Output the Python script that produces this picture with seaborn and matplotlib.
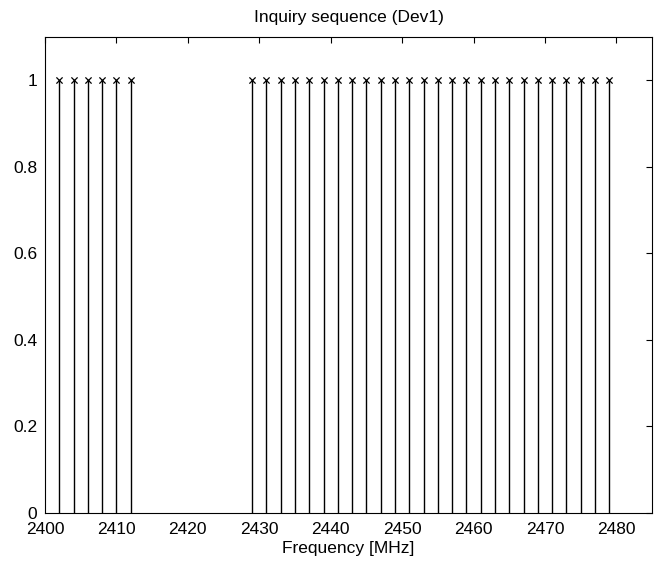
import matplotlib
matplotlib.use("Agg")
import matplotlib.pyplot as plt
import seaborn as sns
import pandas as pd

freq_low = [2402, 2404, 2406, 2408, 2410, 2412]
freq_high = [2429, 2431, 2433, 2435, 2437, 2439, 2441, 2443, 2445, 2447, 2449, 2451, 2453,
             2455, 2457, 2459, 2461, 2463, 2465, 2467, 2469, 2471, 2473, 2475, 2477, 2479]
frequencies = freq_low + freq_high
values = [1] * len(frequencies)
x_ticks = [2400, 2410, 2420, 2430, 2440, 2450, 2460, 2470, 2480]
y_ticks = [0, 0.2, 0.4, 0.6, 0.8, 1]
y_tick_labels = ["0", "0.2", "0.4", "0.6", "0.8", "1"]

df = pd.DataFrame({"freq": frequencies, "val": values})

sns.set_style("white")
plt.rcParams["font.family"] = ["Liberation Sans", "DejaVu Sans"]
plt.rcParams["text.color"] = "black"
plt.rcParams["axes.labelcolor"] = "black"

fig = plt.figure(figsize=(6.62, 5.67), dpi=100)
ax = fig.add_axes([0.068, 0.0952, 0.917, 0.8395])

ax.vlines(df["freq"], 0, df["val"], colors="black", linewidth=1.0)
sns.scatterplot(data=df, x="freq", y="val", marker="x", color="black", s=20,
                linewidth=0.9, ax=ax, legend=False)

ax.set_xlim(2400, 2485)
ax.set_ylim(0, 1.1)
ax.set_xticks(x_ticks)
ax.set_yticks(y_ticks)
ax.set_yticklabels(y_tick_labels)
ax.tick_params(direction="in", length=4.5, width=0.8, top=True, right=True,
               labelsize=12.5, colors="black")
ax.tick_params(axis="x", pad=6.5)
ax.tick_params(axis="y", pad=5.5)
for s in ax.spines.values():
    s.set_visible(True)
    s.set_color("black")
    s.set_linewidth(0.8)
ax.set_xlabel("Frequency [MHz]", fontsize=12.5, labelpad=3, color="black")
ax.set_ylabel("")
ax.set_title("Inquiry sequence (Dev1)", fontsize=12.5, pad=11, color="black")

fig.savefig("out.png", dpi=100, facecolor="white")
